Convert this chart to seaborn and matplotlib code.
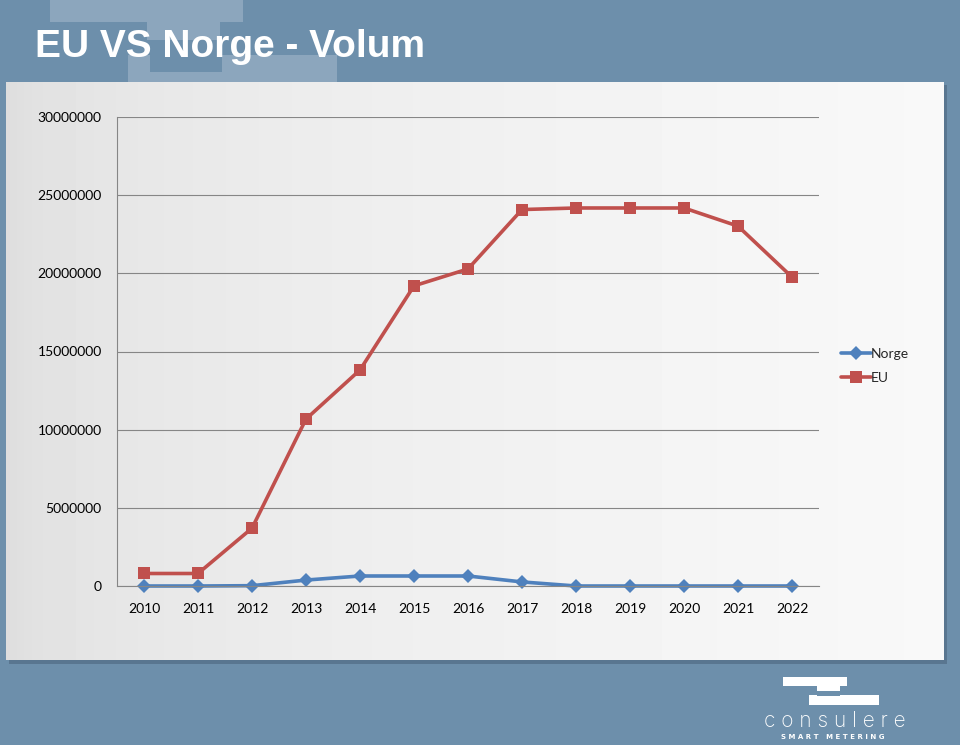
import numpy as np
import pandas as pd
import matplotlib
matplotlib.use('Agg')
import matplotlib.pyplot as plt
import matplotlib.ticker as mticker
from matplotlib.patches import Rectangle
import seaborn as sns

years = list(range(2010, 2023))
norge = [0, 0, 20000, 380000, 640000, 640000, 640000, 260000, 0, 0, 0, 0, 0]
eu = [800000, 800000, 3700000, 10680000, 13820000, 19200000, 20280000,
      24080000, 24180000, 24180000, 24180000, 23020000, 19760000]
series_names = ['Norge', 'EU']
yticks = list(range(0, 30000001, 5000000))

df = pd.DataFrame({
    'year': years * 2,
    'value': norge + eu,
    'serie': ['Norge'] * len(years) + ['EU'] * len(years),
})

sns.set_theme(style='white')
plt.rcParams['font.family'] = ['Lato', 'DejaVu Sans']

W, H = 960, 745
bg = '#6d8fab'
light = '#8ca6bd'
fig = plt.figure(figsize=(W / 100, H / 100), dpi=100, facecolor=bg)

# background decoration (slide)
deco = fig.add_axes([0, 0, 1, 1], zorder=0)
deco.set_xlim(0, W)
deco.set_ylim(H, 0)
deco.axis('off')
for (x, y, w, h, c) in [(50, 0, 193, 22, light), (147, 22, 73, 18, light),
                        (128, 55, 209, 27, light), (150, 40, 72, 32, bg)]:
    deco.add_patch(Rectangle((x, y), w, h, color=c, lw=0))
# panel shadow
deco.add_patch(Rectangle((9, 85), 938, 579, color='#4a627a', alpha=0.55, lw=0))
# logo
for (x, y, w, h) in [(783, 677, 64, 9), (817, 686, 23, 5), (809, 695, 70, 10)]:
    deco.add_patch(Rectangle((x, y), w, h, color='white', lw=0))
deco.add_patch(Rectangle((817, 691), 23, 5, color=bg, lw=0))
deco.text(835, 721, 'c o n s u l e r e', color='white', fontsize=15,
          ha='center', va='center', family=['Inter', 'DejaVu Sans'],
          fontweight='light')
deco.text(833, 737, 'S M A R T   M E T E R I N G', color='white', fontsize=5,
          ha='center', va='center', fontweight='bold', family=['DejaVu Sans'])
deco.text(35, 47, 'EU VS Norge - Volum', color='white', fontsize=28,
          fontweight='bold', ha='left', va='center',
          family=['Liberation Sans', 'DejaVu Sans'])

# panel with gradient
panel = fig.add_axes([6 / W, 1 - 660 / H, 938 / W, 578 / H], zorder=1)
t = np.linspace(0, 1, 256)
grad = (0.865 + 0.11 * np.sqrt(t)).reshape(1, -1)
panel.imshow(grad, cmap='gray', vmin=0, vmax=1, aspect='auto',
             extent=[0, 1, 0, 1])
panel.set_xlim(0, 1)
panel.set_ylim(0, 1)
panel.axis('off')

ax = fig.add_axes([117 / W, 1 - 586 / H, 702 / W, 469 / H], zorder=2)
ax.patch.set_alpha(0)
palette = {'Norge': '#4f81bd', 'EU': '#c0504d'}
markers = {'Norge': 'D', 'EU': 's'}
sns.lineplot(data=df, x='year', y='value', hue='serie', style='serie',
             hue_order=series_names, style_order=series_names,
             palette=palette, markers=markers, dashes=False, lw=2.6,
             markersize=8, markeredgewidth=0, ax=ax, legend=True)
for line in ax.lines:
    line.set_clip_on(False)
    if line.get_marker() == 'D':
        line.set_markersize(7)
ax.set_xlim(2009.5, 2022.5)
ax.set_ylim(0, 30000000)
ax.set_xticks(years)
ax.set_xticks(np.arange(2009.5, 2023, 1), minor=True)
ax.set_yticks(yticks)
ax.yaxis.set_major_formatter(mticker.FuncFormatter(lambda v, p: f'{int(v)}'))
ax.tick_params(axis='x', which='major', length=0, pad=12, labelsize=10,
               colors='black')
ax.tick_params(axis='x', which='minor', length=5, width=0.8, color='#868686',
               direction='out')
ax.tick_params(axis='y', length=5, width=0.8, color='#868686',
               direction='out', labelsize=10, pad=6, labelcolor='black')
ax.grid(axis='y', color='#868686', lw=0.8)
ax.set_axisbelow(True)
for s in ['top', 'right']:
    ax.spines[s].set_visible(False)
for s in ['left', 'bottom']:
    ax.spines[s].set_color('#868686')
    ax.spines[s].set_linewidth(0.8)
ax.set_xlabel('')
ax.set_ylabel('')

leg = ax.legend(loc='center left', bbox_to_anchor=(828 / W, 1 - 366 / H),
                bbox_transform=fig.transFigure, frameon=False, fontsize=10,
                handlelength=2.2, handletextpad=0.0, labelspacing=0.9)
for line in leg.get_lines():
    line.set_linewidth(2.6)
    if line.get_marker() == 'D':
        line.set_markersize(7)

fig.savefig('out.png', dpi=100, facecolor=bg)
